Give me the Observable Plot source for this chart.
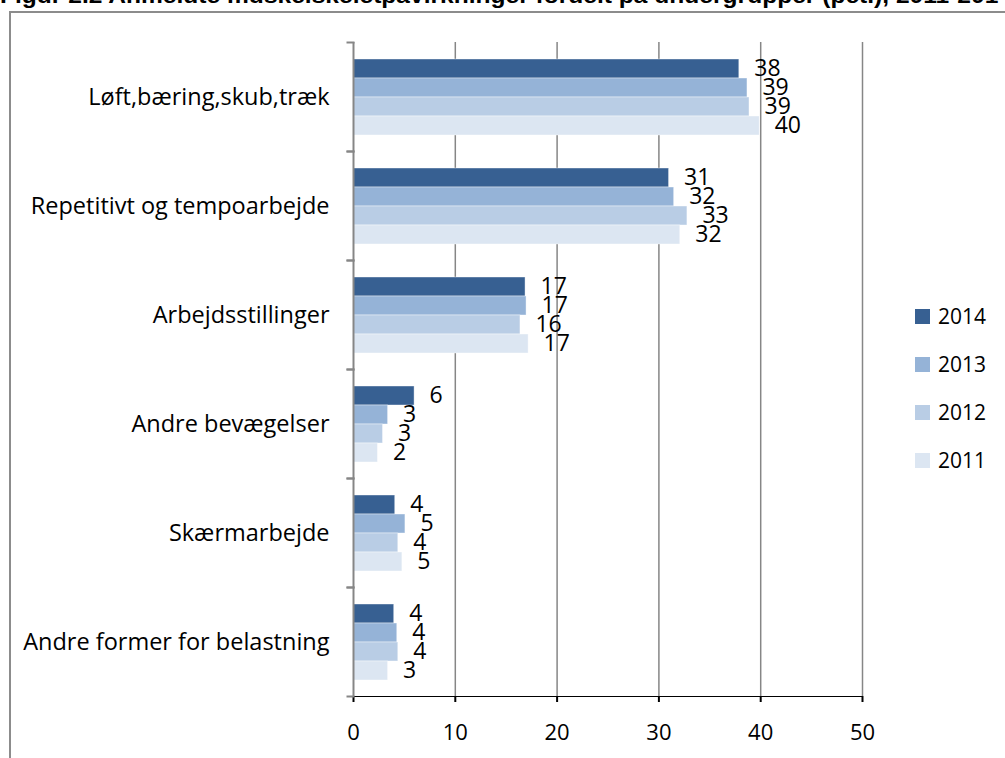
<!DOCTYPE html>
<html><head><meta charset="utf-8">
<script src="https://cdn.jsdelivr.net/npm/d3@7"></script>
<script src="https://cdn.jsdelivr.net/npm/@observablehq/plot@0.6"></script>
<style>
body{margin:0;background:#fff;}
#wrap{position:relative;width:1005px;height:758px;overflow:hidden;font-family:"Open Sans",sans-serif;}
#title{position:absolute;left:0;top:-17px;font:bold 22px "Liberation Sans",Arial,sans-serif;white-space:nowrap;color:#000;transform-origin:0 0;line-height:26px;}
#frame{position:absolute;left:9px;top:11px;width:1100px;height:900px;border:2px solid #8c8c8c;}
#chart{position:absolute;left:0;top:0;}
#legend{position:absolute;left:915px;top:292px;font:21px "Open Sans",sans-serif;color:#000;}
.li{display:flex;align-items:center;height:48px;}
.sw{width:15px;height:15px;margin-right:8px;}
</style></head>
<body>
<div id="wrap">
  <div id="frame"></div>
  <div id="title">Figur 2.2 Anmeldte muskelskeletpåvirkninger fordelt på undergrupper (pct.), 2011-2014</div>
  <div id="chart"></div>
  <div id="legend"></div>
</div>
<script>
const categories = ["Løft,bæring,skub,træk","Repetitivt og tempoarbejde","Arbejdsstillinger","Andre bevægelser","Skærmarbejde","Andre former for belastning"];
const years = ["2014","2013","2012","2011"];
const v2014 = [37.9, 31.0, 16.9, 6.0, 4.1, 4.0];
const v2013 = [38.7, 31.5, 17.0, 3.4, 5.1, 4.3];
const v2012 = [38.9, 32.8, 16.4, 2.9, 4.4, 4.4];
const v2011 = [39.9, 32.1, 17.2, 2.4, 4.8, 3.4];
const xTicks = [0, 10, 20, 30, 40, 50];
const colors = ["#376092", "#95B3D7", "#B9CDE5", "#DCE6F2"];

const series = [v2014, v2013, v2012, v2011];
const data = categories.flatMap((c, i) => years.map((y, j) => ({category: c, year: y, value: series[j][i]})));

const W = 1005, H = 758, mL = 353, mR = 143, mT = 40, mB = 61;
const innerW = W - mL - mR;
const axisGray = "#868686";

const chart = Plot.plot({
  width: W, height: H,
  marginTop: mT, marginBottom: mB, marginLeft: mL, marginRight: mR,
  style: {fontFamily: "'Open Sans', sans-serif", fontSize: "22px", color: "#000", background: "transparent"},
  x: {domain: [0, 50], ticks: xTicks, tickSize: 6, tickPadding: 22, label: null, line: true},
  fy: {domain: categories, padding: 0, label: null},
  y: {domain: years, paddingInner: 0, paddingOuter: 0.8, axis: null},
  color: {domain: years, range: colors},
  marks: [
    Plot.gridX(xTicks.slice(1), {stroke: axisGray, strokeOpacity: 1, strokeWidth: 1.5}),
    Plot.barX(data, {fy: "category", y: "year", x: "value", fill: "year", stroke: "#fff", strokeOpacity: 0.5, strokeWidth: 0.8}),
    Plot.text(data, {fy: "category", y: "year", x: "value", text: d => d3.format(".0f")(d.value), textAnchor: "start", dx: 15, fontSize: 23, fill: "#000"}),
    Plot.ruleX([0], {stroke: axisGray, strokeWidth: 2}),
    Plot.frame({anchor: "top", insetLeft: -6, insetRight: innerW, stroke: axisGray, strokeWidth: 2}),
    Plot.frame({anchor: "bottom", insetLeft: -6, insetRight: innerW, stroke: axisGray, strokeWidth: 2}),
    Plot.axisFy({anchor: "left", tickSize: 0, tickPadding: 24, label: null, fontSize: 23.5})
  ]
});
chart.querySelectorAll('[aria-label="x-axis tick"], [aria-label="x-axis line"]').forEach(g => {g.setAttribute("stroke", axisGray); g.setAttribute("stroke-width", 2);});
document.getElementById("chart").appendChild(chart);

const legend = document.getElementById("legend");
years.forEach((y, j) => {
  const row = document.createElement("div");
  row.className = "li";
  row.innerHTML = `<div class="sw" style="background:${colors[j]}"></div><span>${y}</span>`;
  legend.appendChild(row);
});

// fit title width to the page width, as in the reference (condensed heading)
const title = document.getElementById("title");
const tw = title.getBoundingClientRect().width;
title.style.transform = `scaleX(${1012 / tw})`;
</script>
</body></html>
